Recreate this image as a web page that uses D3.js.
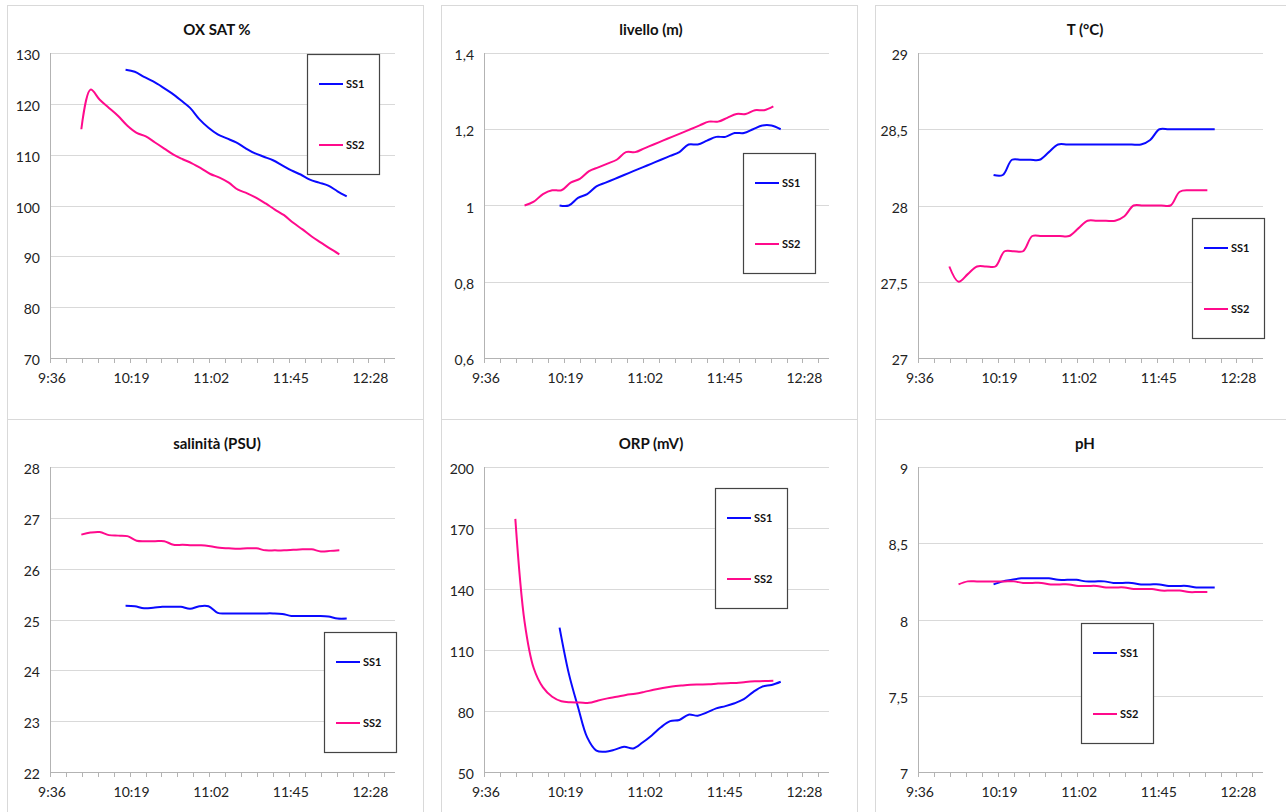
<!DOCTYPE html>
<html>
<head>
    <meta charset="utf-8">
    <title>SS1 / SS2</title>
    <script src="https://d3js.org/d3.v7.min.js"></script>
    <style>
        body {
            margin: 0;
            background: #fff;
            font-family: Lato, "Open Sans", sans-serif;
            overflow: hidden;
        }
        .frame { fill: #fff; stroke: #d9d9d9; stroke-width: 1px; }
        .grid { stroke: #d9d9d9; stroke-width: 1px; }
        .axis-line { stroke: #b3b3b3; stroke-width: 1px; }
        .tick-lbl { font-size: 14px; fill: #222; }
        .title { font-size: 15px; font-weight: bold; fill: #111; }
        .legend-box { fill: #fff; stroke: #444; stroke-width: 1.2px; }
        .legend-lbl { font-size: 11px; font-weight: bold; fill: #111; }
        .series { fill: none; stroke-width: 2px; }
    </style>
</head>
<body>
<svg width="1286" height="812"></svg>
<script>
// orari di campionamento
const timesSS1 = ["10:17","10:22","10:27","10:32","10:37","10:42","10:47","10:52","10:57","11:02",
    "11:07","11:12","11:17","11:22","11:27","11:32","11:37","11:42","11:47","11:52",
    "11:57","12:02","12:07","12:12","12:17"];
const timesSS2 = ["9:53","9:58","10:03","10:08","10:13","10:18","10:23","10:28","10:33","10:38",
    "10:43","10:48","10:53","10:58","11:03","11:08","11:13","11:18","11:23","11:28",
    "11:33","11:38","11:43","11:48","11:53","11:58","12:03","12:08","12:13"];

const xTickLabels = ["9:36","10:19","11:02","11:45","12:28"];
const seriesNames = ["SS1","SS2"];
const titles = ["OX SAT %","livello (m)","T (°C)","salinità (PSU)","ORP (mV)","pH"];

// OX SAT %
const oxTicks = [70,80,90,100,110,120,130];
const oxSS1 = [126.7,126.3,125.3,124.4,123.3,122.1,120.7,119.2,117.0,115.3,114.0,113.2,112.4,111.3,
    110.3,109.6,108.9,107.9,106.9,106.1,105.1,104.5,103.9,102.8,101.8];
const oxSS2 = [115.0,122.8,120.8,119.2,117.6,115.7,114.3,113.6,112.4,111.2,110.0,109.1,108.3,107.3,
    106.2,105.5,104.5,103.1,102.4,101.5,100.4,99.2,98.1,96.6,95.3,93.9,92.7,91.5,90.4];

// livello (m)
const livTicks = [0.6,0.8,1,1.2,1.4];
const livSS1 = [1.00,1.00,1.02,1.03,1.05,1.06,1.07,1.08,1.09,1.10,1.11,1.12,1.13,1.14,1.16,1.16,
    1.17,1.18,1.18,1.19,1.19,1.20,1.21,1.21,1.20];
const livSS2 = [null,1.00,1.01,1.03,1.04,1.04,1.06,1.07,1.09,1.10,1.11,1.12,1.14,1.14,1.15,1.16,
    1.17,1.18,1.19,1.20,1.21,1.22,1.22,1.23,1.24,1.24,1.25,1.25,1.26];

// T (°C)
const tTicks = [27,27.5,28,28.5,29];
const tSS1 = [28.2,28.2,28.3,28.3,28.3,28.3,28.35,28.4,28.4,28.4,28.4,28.4,28.4,28.4,28.4,28.4,
    28.4,28.43,28.5,28.5,28.5,28.5,28.5,28.5,28.5];
const tSS2 = [27.6,27.5,27.55,27.6,27.6,27.6,27.7,27.7,27.7,27.8,27.8,27.8,27.8,27.8,27.85,27.9,
    27.9,27.9,27.9,27.93,28.0,28.0,28.0,28.0,28.0,28.09,28.1,28.1,28.1];

// salinità (PSU)
const salTicks = [22,23,24,25,26,27,28];
const salSS1 = [25.27,25.26,25.22,25.23,25.25,25.25,25.25,25.21,25.26,25.26,25.13,25.12,25.12,25.12,
    25.12,25.12,25.12,25.11,25.07,25.07,25.07,25.07,25.06,25.02,25.02];
const salSS2 = [26.67,26.71,26.72,26.66,26.65,26.64,26.55,26.54,26.54,26.54,26.47,26.47,26.46,26.46,
    26.44,26.41,26.40,26.39,26.40,26.40,26.36,26.36,26.36,26.37,26.38,26.38,26.34,26.35,26.36];

// ORP (mV)
const orpTicks = [50,80,110,140,170,200];
const orpSS1 = [121,98.5,82,67,60.5,60,61,62.4,61.6,64.5,68,72,75,75.6,78.2,77.7,79.3,81.3,82.4,
    83.8,85.8,89.3,92,92.8,94.4];
const orpSS2 = [174.5,124,101,91.6,87,84.8,84.3,84.2,84,85.2,86.2,87,87.9,88.5,89.4,90.4,91.3,92,
    92.5,92.9,93,93.1,93.5,93.7,93.8,94.3,94.6,94.7,94.9];

// pH
const phTicks = [7,7.5,8,8.5,9];
const phSS1 = [8.23,8.25,8.26,8.27,8.27,8.27,8.27,8.26,8.26,8.26,8.25,8.25,8.25,8.24,8.24,8.24,
    8.23,8.23,8.23,8.22,8.22,8.22,8.21,8.21,8.21];
const phSS2 = [null,8.23,8.25,8.25,8.25,8.25,8.25,8.25,8.24,8.24,8.24,8.23,8.23,8.23,8.22,8.22,
    8.22,8.21,8.21,8.21,8.20,8.20,8.20,8.19,8.19,8.19,8.18,8.18,8.18];

const colors = ["#0a0aff", "#ff0a8c"];

const svg = d3.select("svg");

// posizione dei pannelli e delle legende (relative al pannello)
const panels = [
    { x: 7,   y: 5,   ticks: oxTicks,  s1: oxSS1,  s2: oxSS2,  leg: [300, 49] },
    { x: 441, y: 5,   ticks: livTicks, s1: livSS1, s2: livSS2, leg: [302, 148] },
    { x: 875, y: 5,   ticks: tTicks,   s1: tSS1,   s2: tSS2,   leg: [317, 213] },
    { x: 7,   y: 419, ticks: salTicks, s1: salSS1, s2: salSS2, leg: [317, 213] },
    { x: 441, y: 419, ticks: orpTicks, s1: orpSS1, s2: orpSS2, leg: [274, 69] },
    { x: 875, y: 419, ticks: phTicks,  s1: phSS1,  s2: phSS2,  leg: [206, 204] }
];

const toMin = s => { const p = s.split(":"); return +p[0] * 60 + +p[1]; };
const fmtNum = v => String(v).replace(".", ",");

const plotW = 345, plotH = 305;
// asse dei tempi: 9:36 .. 12:43 (0,40 .. 0,53 giorni)
const x = d3.scaleLinear().domain([576, 763.2]).range([0, plotW]);
const xMajor = xTickLabels.map((d, i) => 576 + i * 43.2);
const xMinor = d3.range(576, 763.2 + 0.01, 8.64);

panels.forEach((p, k) => {
    const g = svg.append("g").attr("transform", `translate(${p.x},${p.y})`);
    g.append("rect").attr("class", "frame")
        .attr("x", 0.5).attr("y", 0.5).attr("width", 416).attr("height", 420);

    g.append("text").attr("class", "title")
        .attr("x", 210).attr("y", 30).attr("text-anchor", "middle")
        .text(titles[k]);

    const plot = g.append("g").attr("transform", "translate(43,48)");
    const y = d3.scaleLinear().domain(d3.extent(p.ticks)).range([plotH, 0]);

    // griglia
    plot.selectAll(".grid").data(p.ticks.slice(1)).enter().append("line")
        .attr("class", "grid")
        .attr("x1", 0).attr("x2", plotW)
        .attr("y1", d => Math.round(y(d)) + 0.5).attr("y2", d => Math.round(y(d)) + 0.5);

    // etichette asse y
    plot.selectAll(".ylbl").data(p.ticks).enter().append("text")
        .attr("class", "tick-lbl")
        .attr("x", -10).attr("y", d => y(d) + 7)
        .attr("text-anchor", "end")
        .text(fmtNum);

    // assi
    plot.append("line").attr("class", "axis-line")
        .attr("x1", 0.5).attr("x2", 0.5).attr("y1", 0).attr("y2", plotH);
    plot.append("line").attr("class", "axis-line")
        .attr("x1", 0).attr("x2", plotW).attr("y1", plotH + 0.5).attr("y2", plotH + 0.5);
    plot.selectAll(".xt").data(xMinor).enter().append("line")
        .attr("class", "axis-line")
        .attr("x1", d => Math.round(x(d)) + 0.5).attr("x2", d => Math.round(x(d)) + 0.5)
        .attr("y1", plotH).attr("y2", plotH + 5);
    plot.selectAll(".xlbl").data(xMajor).enter().append("text")
        .attr("class", "tick-lbl")
        .attr("x", d => x(d) + 2).attr("y", plotH + 25)
        .attr("text-anchor", "middle")
        .text((d, i) => xTickLabels[i]);

    // serie
    const line = d3.line()
        .defined(d => d.v != null)
        .x(d => x(d.t)).y(d => y(d.v))
        .curve(d3.curveCatmullRom);
    const s1 = timesSS1.map((t, i) => ({ t: toMin(t), v: p.s1[i] }));
    const s2 = timesSS2.map((t, i) => ({ t: toMin(t), v: p.s2[i] }));
    plot.append("path").attr("class", "series").attr("stroke", colors[0]).attr("d", line(s1));
    plot.append("path").attr("class", "series").attr("stroke", colors[1]).attr("d", line(s2));

    // legenda
    const lg = g.append("g").attr("transform", `translate(${p.leg[0]},${p.leg[1]})`);
    lg.append("rect").attr("class", "legend-box")
        .attr("x", 0.5).attr("y", 0.5).attr("width", 72).attr("height", 120);
    seriesNames.forEach((name, i) => {
        const ly = 30 + i * 61;
        lg.append("line").attr("stroke", colors[i]).attr("stroke-width", 2)
            .attr("x1", 12).attr("x2", 36).attr("y1", ly).attr("y2", ly);
        lg.append("text").attr("class", "legend-lbl")
            .attr("x", 39).attr("y", ly + 4).text(name);
    });
});
</script>
</body>
</html>
